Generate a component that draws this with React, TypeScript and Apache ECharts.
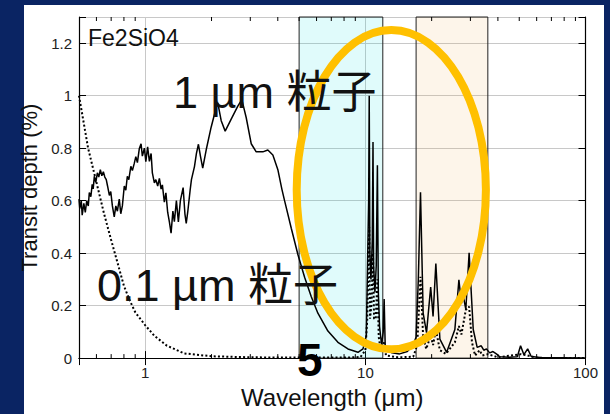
import React, { useEffect, useRef } from "react";
import * as echarts from "echarts";

// ---- data ----
// 1 µm particles (solid line): [wavelength µm, transit depth %]
const solid1um: number[][] = [
  [0.5, 0.606], [0.504, 0.57], [0.512, 0.6], [0.517, 0.545], [0.526, 0.59], [0.534, 0.555],
  [0.542, 0.6], [0.551, 0.58], [0.557, 0.631], [0.566, 0.615], [0.574, 0.662], [0.58, 0.645],
  [0.587, 0.693], [0.596, 0.67], [0.606, 0.706], [0.615, 0.69], [0.625, 0.718], [0.635, 0.695],
  [0.645, 0.71], [0.655, 0.69], [0.665, 0.68], [0.674, 0.656], [0.687, 0.62], [0.697, 0.635],
  [0.709, 0.58], [0.723, 0.538], [0.735, 0.58], [0.747, 0.56], [0.762, 0.606], [0.774, 0.55],
  [0.787, 0.58], [0.803, 0.656], [0.816, 0.64], [0.829, 0.693], [0.842, 0.68], [0.86, 0.731],
  [0.874, 0.715], [0.892, 0.743], [0.906, 0.768], [0.921, 0.745], [0.94, 0.799], [0.957, 0.817],
  [0.97, 0.77], [0.991, 0.8], [1.006, 0.749], [1.025, 0.805], [1.044, 0.75], [1.063, 0.78],
  [1.077, 0.706], [1.1, 0.668], [1.117, 0.68], [1.139, 0.656], [1.159, 0.685], [1.18, 0.644],
  [1.196, 0.66], [1.221, 0.594], [1.241, 0.63], [1.264, 0.556], [1.287, 0.519], [1.31, 0.476],
  [1.335, 0.56], [1.356, 0.52], [1.385, 0.6], [1.414, 0.519], [1.444, 0.6], [1.486, 0.65],
  [1.514, 0.55], [1.535, 0.513], [1.559, 0.556], [1.599, 0.64], [1.621, 0.68], [1.673, 0.73],
  [1.708, 0.78], [1.744, 0.815], [1.781, 0.77], [1.824, 0.724], [1.891, 0.793], [1.992, 0.88],
  [2.099, 0.954], [2.135, 0.973], [2.213, 0.905], [2.307, 0.865], [2.457, 0.911], [2.633, 0.96],
  [2.746, 0.985], [2.874, 0.917], [3.029, 0.817], [3.192, 0.786], [3.421, 0.786], [3.605, 0.793],
  [3.799, 0.774], [4.003, 0.718], [4.174, 0.644], [4.294, 0.6], [4.606, 0.495], [4.936, 0.395],
  [5.295, 0.308], [5.679, 0.234], [6.085, 0.171], [6.758, 0.103], [7.505, 0.06], [8.333, 0.035],
  [9.255, 0.022], [9.752, 0.035], [10.1, 0.085], [10.2, 0.3], [10.35, 0.6], [10.41, 1.0],
  [10.48, 0.4], [10.6, 0.3], [10.75, 0.45], [10.83, 0.824], [10.9, 0.35], [11.05, 0.25],
  [11.2, 0.35], [11.34, 0.735], [11.45, 0.25], [11.6, 0.12], [11.85, 0.05], [12.05, 0.1],
  [12.17, 0.225], [12.3, 0.05], [12.6, 0.03], [13.2, 0.02], [14.3, 0.016], [15.5, 0.025],
  [16.5, 0.05], [17.0, 0.08], [17.4, 0.3], [17.8, 0.632], [18.3, 0.171], [18.96, 0.097],
  [19.8, 0.271], [20.3, 0.159], [20.9, 0.36], [21.8, 0.072], [23.4, 0.022], [25.5, 0.109],
  [26.6, 0.298], [27.3, 0.209], [27.8, 0.24], [28.6, 0.186], [29.6, 0.401], [30.9, 0.109],
  [32.2, 0.041], [33.6, 0.047], [34.5, 0.03], [35.5, 0.035], [36.7, 0.02], [38, 0.025],
  [39.5, 0.015], [40.8, 0.005], [45, 0.003], [49, 0.005], [50.7, 0.047], [52.5, 0.013],
  [54.6, 0.035], [56.7, 0.006], [62.2, 0.002], [100, 0.0],
];

// 0.1 µm particles (dotted line)
const dotted01um: number[][] = [
  [0.5, 1.0], [0.55, 0.8], [0.6, 0.67], [0.65, 0.55], [0.7, 0.45], [0.75, 0.36], [0.8, 0.275],
  [0.85, 0.22], [0.9, 0.175], [1.0, 0.125], [1.1, 0.085], [1.25, 0.048], [1.5, 0.018], [2, 0.007],
  [3, 0.003], [5, 0.002], [8, 0.002], [9.5, 0.004], [10.0, 0.03], [10.2, 0.15], [10.41, 0.5],
  [10.5, 0.15], [10.65, 0.2], [10.83, 0.4], [10.95, 0.15], [11.15, 0.15], [11.34, 0.3],
  [11.5, 0.08], [11.8, 0.02], [12.17, 0.06], [12.4, 0.01], [14, 0.003], [16.5, 0.005],
  [17.2, 0.05], [17.8, 0.31], [18.3, 0.08], [18.9, 0.035], [19.8, 0.085], [20.3, 0.05],
  [20.9, 0.109], [21.8, 0.03], [23.2, 0.016], [25.5, 0.06], [26.6, 0.122], [27.3, 0.09],
  [28.6, 0.184], [29.6, 0.196], [30.5, 0.06], [31.5, 0.01], [33, 0.03], [34, 0.01], [36, 0.015],
  [40, 0.003], [50.7, 0.015], [54.6, 0.01], [60, 0.001], [100, 0],
];

// highlighted wavelength bands (µm)
const cyanBand = [5, 12];
const orangeBand = [17, 36];

// axis ticks
const xTickLabels = ["1", "10", "100"];
const xMinorTicks = [0.6, 0.7, 0.8, 0.9, 2, 3, 4, 5, 6, 7, 8, 9, 20, 30, 40, 50, 60, 70, 80, 90];
const yTickLabels = ["0", "0.2", "0.4", "0.6", "0.8", "1", "1.2"];

const X_MIN = 0.5;
const X_MAX = 100;
const Y_MIN = 0;
const Y_MAX = 1.3;
const Y_STEP = 0.2;

const FONT = '"Liberation Sans", "Noto Sans CJK JP", Arial, sans-serif';
const NAVY = "#0a2463";

export default function App() {
  const ref = useRef<HTMLDivElement>(null);

  useEffect(() => {
    if (!ref.current) return;
    const chart = echarts.init(ref.current, null, { renderer: "svg" });

    const xLabel = (v: number) => {
      const s = String(Math.round(v));
      return Math.abs(v - Math.round(v)) < 1e-9 && xTickLabels.includes(s) ? s : "";
    };
    const yLabel = (v: number) => {
      const i = Math.round(v / Y_STEP);
      return Math.abs(v - i * Y_STEP) < 1e-6 ? yTickLabels[i] ?? "" : "";
    };

    const frameLine = { show: true, lineStyle: { color: "#000", width: 1.2 } };

    const option: any = {
      animation: false,
      backgroundColor: "transparent",
      grid: { left: 79, right: 24.5, top: 17, bottom: 48, containLabel: false },
      xAxis: [
        {
          type: "log",
          logBase: 10,
          min: X_MIN,
          max: X_MAX,
          position: "bottom",
          axisLine: frameLine,
          axisTick: { show: true, inside: true, length: 7, lineStyle: { color: "#000" } },
          axisLabel: {
            formatter: xLabel,
            fontSize: 15,
            color: "#222",
            fontFamily: FONT,
            margin: 7,
            showMinLabel: true,
            showMaxLabel: true,
          },
          splitLine: { show: true, lineStyle: { color: "#c8c8c8", width: 1 } },
          name: "Wavelength (μm)",
          nameLocation: "middle",
          nameGap: 21,
          nameTextStyle: { fontSize: 24, color: "#111", fontFamily: FONT },
        },
        {
          type: "log",
          logBase: 10,
          min: X_MIN,
          max: X_MAX,
          position: "top",
          axisLine: frameLine,
          axisTick: { show: true, inside: true, length: 7, lineStyle: { color: "#000" } },
          axisLabel: { show: false },
          splitLine: { show: false },
        },
      ],
      yAxis: [
        {
          type: "value",
          min: Y_MIN,
          max: Y_MAX,
          interval: Y_STEP,
          position: "left",
          axisLine: frameLine,
          axisTick: { show: true, inside: true, length: 7, lineStyle: { color: "#000" } },
          axisLabel: { formatter: yLabel, fontSize: 15, color: "#222", fontFamily: FONT, margin: 7 },
          splitLine: { show: true, lineStyle: { color: "#c8c8c8", width: 1 } },
          name: "Transit depth (%)",
          nameLocation: "middle",
          nameGap: 34,
          nameTextStyle: { fontSize: 22, color: "#111", fontFamily: FONT },
        },
        {
          type: "value",
          min: Y_MIN,
          max: Y_MAX,
          interval: Y_STEP,
          position: "right",
          axisLine: frameLine,
          axisTick: { show: true, inside: true, length: 7, lineStyle: { color: "#000" } },
          axisLabel: { show: false },
          splitLine: { show: false },
        },
      ],
      series: [
        {
          name: "0.1 µm",
          type: "line",
          xAxisIndex: 0,
          yAxisIndex: 0,
          data: dotted01um,
          showSymbol: false,
          symbol: "none",
          lineStyle: { color: "#000", width: 2, type: [2, 2.2] },
          z: 3,
          markArea: {
            silent: true,
            itemStyle: { borderColor: "#222", borderWidth: 1 },
            data: [
              [
                { xAxis: cyanBand[0], itemStyle: { color: "rgba(0,220,220,0.12)" } },
                { xAxis: cyanBand[1] },
              ],
              [
                { xAxis: orangeBand[0], itemStyle: { color: "rgba(240,160,60,0.11)" } },
                { xAxis: orangeBand[1] },
              ],
            ],
          },
        },
        {
          name: "1 µm",
          type: "line",
          xAxisIndex: 0,
          yAxisIndex: 0,
          data: solid1um,
          showSymbol: false,
          symbol: "none",
          lineStyle: { color: "#000", width: 1.5 },
          z: 4,
        },
        {
          name: "minor ticks",
          type: "custom",
          xAxisIndex: 0,
          yAxisIndex: 0,
          silent: true,
          clip: false,
          z: 6,
          data: xMinorTicks.map((v) => [v, Y_MIN]),
          renderItem: (_params: any, api: any) => {
            const v = api.value(0);
            const b = api.coord([v, Y_MIN]);
            const t = api.coord([v, Y_MAX]);
            return {
              type: "group",
              children: [
                { type: "line", shape: { x1: b[0], y1: b[1], x2: b[0], y2: b[1] - 4 }, style: { stroke: "#000", lineWidth: 1 } },
                { type: "line", shape: { x1: t[0], y1: t[1], x2: t[0], y2: t[1] + 4 }, style: { stroke: "#000", lineWidth: 1 } },
              ],
            };
          },
        },
      ],
      graphic: [
        {
          type: "ellipse",
          z: 50,
          silent: true,
          shape: { cx: 391.3, cy: 189.7, rx: 94.6, ry: 159.6 },
          style: { fill: "transparent", stroke: "#FFC000", lineWidth: 8 },
        },
        {
          type: "text",
          z: 60,
          x: 88,
          y: 38,
          style: { text: "Fe2SiO4", fontSize: 23, fontFamily: FONT, fill: "#111", verticalAlign: "middle", align: "left" },
        },
        {
          type: "text",
          z: 60,
          x: 173,
          y: 92,
          style: { text: "1 µm 粒子", fontSize: 45, fontFamily: FONT, fill: "#111", verticalAlign: "middle", align: "left" },
        },
        {
          type: "text",
          z: 60,
          x: 97,
          y: 285,
          style: { text: "0.1 µm 粒子", fontSize: 45, fontFamily: FONT, fill: "#111", verticalAlign: "middle", align: "left" },
        },
        {
          type: "text",
          z: 60,
          x: 297,
          y: 360,
          style: {
            text: "5",
            fontSize: 46,
            lineHeight: 32,
            fontWeight: "bold",
            fontFamily: FONT,
            fill: "#000",
            verticalAlign: "middle",
            align: "left",
          },
        },
      ],
    };

    chart.setOption(option);
    return () => chart.dispose();
  }, []);

  return (
    <div style={{ position: "fixed", left: 0, top: 0, width: 610, height: 414, background: NAVY, overflow: "hidden" }}>
      <div style={{ position: "absolute", left: 24, top: 5, width: 580, height: 409, background: "#fff" }} />
      <div ref={ref} style={{ position: "absolute", left: 0, top: 0, width: 610, height: 414 }} />
    </div>
  );
}
